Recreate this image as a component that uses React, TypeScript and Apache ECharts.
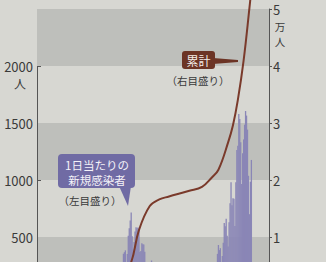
import React, { useEffect, useRef } from "react";
import * as echarts from "echarts";

// Daily new infections (people), Jan 6 – Aug 13, 2020
const janStartDay = 6;
const janValues = [0,0,0,0,0,0,0,0,0,1,0,0,0,0,0,0,0,0,0,0,1,1,1,0,1,0];
const febValues = [1,0,0,0,0,0,0,0,0,0,0,1,1,5,6,6,3,5,4,9,9,14,8,12,5,15,20,18,16];
const marValues = [10,14,17,24,35,30,40,28,40,15,52,58,55,60,30,25,38,46,32,39,47,55,39,63,65,96,112,200,173,87,225];
const aprValues = [266,235,353,367,383,252,351,511,576,644,714,507,390,457,549,586,576,583,568,368,378,446,436,435,371,220,185,261,210,180];
const mayValues = [193,294,204,87,124,99,85,95,110,58,66,80,55,99,44,30,60,23,30,39,26,31,21,14,21,31,20,38,33,22,26];
const junValues = [35,51,41,29,47,28,37,18,41,30,42,60,46,73,47,44,41,31,52,34,57,45,48,57,64,106,92,111,59,82];
const julValues = [126,194,250,274,206,172,207,190,352,430,385,402,263,333,450,623,594,660,510,417,630,795,981,779,839,836,596,981,1264,1301,1580];
const augValues = [1536,1331,964,1235,1356,1485,1605,1565,1442,1037,700,985,1176];

// Cumulative infections (万人)
const cumDates = ["2020-03-15","2020-04-01","2020-04-11","2020-04-19","2020-04-30","2020-05-10","2020-05-20","2020-06-10","2020-06-23","2020-07-03","2020-07-10","2020-07-20","2020-07-25","2020-07-30","2020-08-05","2020-08-11","2020-08-13"];
const cumValues = [0.08,0.25,0.56,1.12,1.54,1.66,1.71,1.81,1.88,2.04,2.18,2.66,2.96,3.4,4.1,5.02,5.35];

const leftTicks = [500, 1000, 1500, 2000];
const rightTicks = [1, 2, 3, 4, 5];
// shaded bands on the left scale
const bandRanges: [number, number][] = [[0, 500], [1000, 1500], [2000, 2500]];

const ts = (y: number, m: number, d: number, h = 0) => new Date(y, m - 1, d, h).getTime();
const parseDate = (s: string) => {
  const [y, m, d] = s.split("-").map(Number);
  return ts(y, m, d);
};

function buildDaily() {
  const months: [number, number, number[]][] = [
    [1, janStartDay, janValues],
    [2, 1, febValues],
    [3, 1, marValues],
    [4, 1, aprValues],
    [5, 1, mayValues],
    [6, 1, junValues],
    [7, 1, julValues],
    [8, 1, augValues],
  ];
  const out: [number, number][] = [];
  months.forEach(([m, start, vals]) => {
    vals.forEach((v, i) => out.push([ts(2020, m, start + i), v]));
  });
  return out;
}

export default function App() {
  const ref = useRef<HTMLDivElement>(null);
  useEffect(() => {
    document.body.style.margin = "0";
    if (!ref.current) return;
    const chart = echarts.init(ref.current, null, { renderer: "svg" });
    const font = "'Noto Sans CJK JP', 'Noto Sans', sans-serif";
    const xMin = ts(2020, 1, 5, 12);
    const xMax = ts(2020, 8, 30, 12);
    const txt = (text: string, x: number, y: number, size: number, fill: string) => ({
      type: "text",
      x,
      y,
      z: 100,
      style: { text, fill, font: `${size}px ${font}`, align: "center", verticalAlign: "middle" },
    });
    chart.setOption({
      animation: false,
      backgroundColor: "#d7d7d2",
      grid: { left: 37, right: 57, top: 9, bottom: 6 },
      xAxis: {
        type: "time",
        min: xMin,
        max: xMax,
        show: false,
      },
      yAxis: [
        {
          type: "value",
          min: 0,
          max: 2500,
          interval: 500,
          axisLine: { show: false },
          axisTick: { show: true, inside: true, length: 4, customValues: leftTicks, lineStyle: { color: "#555" } },
          axisLabel: { customValues: leftTicks, margin: 4, color: "#3a3a3a", fontSize: 13, fontFamily: font, formatter: (v: number) => String(v) },
          splitLine: { show: false },
        },
        {
          type: "value",
          min: 0,
          max: 5,
          interval: 1,
          position: "right",
          axisLine: { show: true, lineStyle: { color: "#555", width: 1 } },
          axisTick: { show: true, length: 3, customValues: rightTicks, lineStyle: { color: "#555" } },
          axisLabel: { customValues: rightTicks, margin: 4, color: "#3a3a3a", fontSize: 13, fontFamily: font, formatter: (v: number) => String(v) },
          splitLine: { show: false },
        },
      ],
      series: [
        {
          type: "line",
          yAxisIndex: 0,
          data: [],
          z: 0,
          silent: true,
          markArea: {
            silent: true,
            itemStyle: { color: "#bebfbb" },
            data: bandRanges.map(([a, b]) => [{ yAxis: a }, { yAxis: b }]),
          },
          markLine: {
            silent: true,
            symbol: ["none", "none"],
            label: { show: false },
            lineStyle: { color: "#555", width: 1, type: "solid" },
            data: [[{ coord: [xMin, 0] }, { coord: [xMin, 2000] }]],
          },
        },
        {
          type: "bar",
          yAxisIndex: 0,
          data: buildDaily(),
          barWidth: 1.3,
          itemStyle: { color: "#8a86b6" },
          z: 3,
        },
        {
          type: "line",
          yAxisIndex: 1,
          data: cumDates.map((d, i) => [parseDate(d), cumValues[i]]),
          smooth: 0.4,
          showSymbol: false,
          clip: false,
          lineStyle: { color: "#7a3a2b", width: 2 },
          z: 5,
        },
      ],
      graphic: [
        txt("人", 20, 83, 12, "#3a3a3a"),
        txt("万", 280, 26, 10.5, "#3a3a3a"),
        txt("人", 280, 41, 10.5, "#3a3a3a"),
        // 累計 label
        { type: "polygon", z: 100, shape: { points: [[213, 58], [238, 60], [238, 62], [213, 64]] }, style: { fill: "#6c3425" } },
        { type: "rect", z: 100, shape: { x: 182, y: 51, width: 33, height: 18, r: 3 }, style: { fill: "#6c3425" } },
        txt("累計", 198.5, 60, 12, "#f2ece8"),
        txt("（右目盛り）", 198, 80, 10.5, "#3a3a3a"),
        // 新規感染者 label
        { type: "polygon", z: 100, shape: { points: [[119, 186], [131, 186], [128, 206]] }, style: { fill: "#706ba4" } },
        { type: "rect", z: 100, shape: { x: 58, y: 154, width: 77, height: 34, r: 4 }, style: { fill: "#706ba4" } },
        txt("1日当たりの", 97, 164.5, 11.5, "#f4f2f8"),
        txt("新規感染者", 97, 179.5, 11.5, "#f4f2f8"),
        txt("（左目盛り）", 90, 200, 10.5, "#3a3a3a"),
      ],
    });
    return () => chart.dispose();
  }, []);
  return (
    <div style={{ width: 326, height: 262, overflow: "hidden", position: "relative" }}>
      <div ref={ref} style={{ width: 326, height: 300 }} />
    </div>
  );
}
